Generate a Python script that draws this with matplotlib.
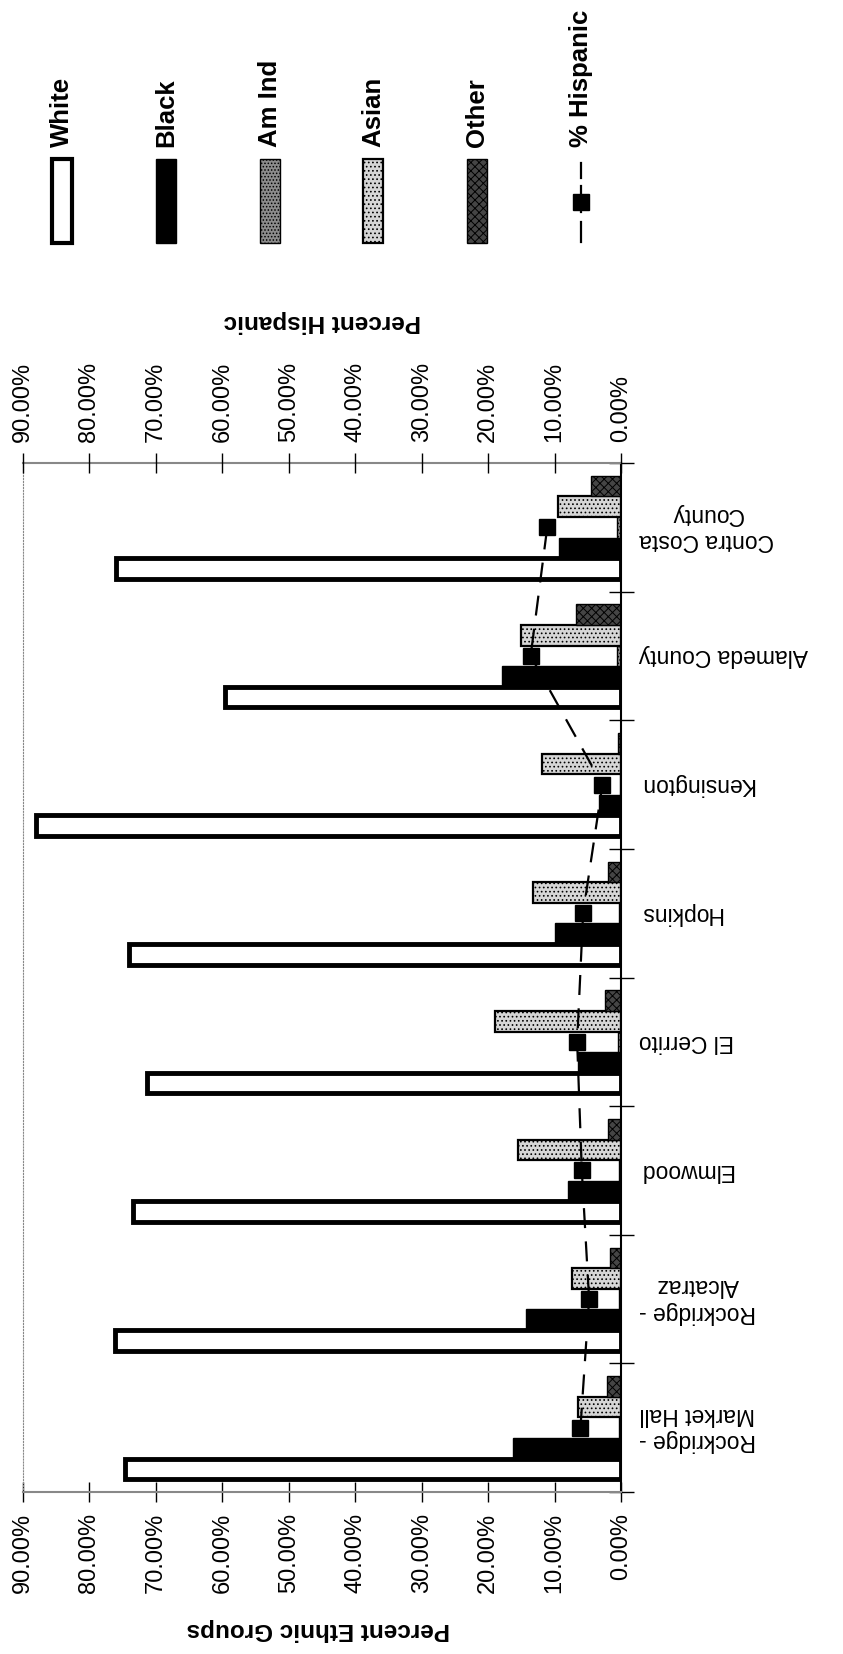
import numpy as np
import matplotlib.pyplot as plt
import matplotlib.ticker as ticker
from matplotlib.patches import Rectangle

plt.rcParams['font.family'] = ['Liberation Sans', 'DejaVu Sans']
plt.rcParams['hatch.linewidth'] = 0.7

# data (percent), bottom to top in the picture
places = ['Rockridge -\nMarket Hall', 'Rockridge -\nAlcatraz', 'Elmwood', 'El Cerrito',
          'Hopkins', 'Kensington', 'Alameda County', 'Contra Costa\nCounty']
white = [74.6, 76.1, 73.4, 71.4, 74.1, 88.1, 59.6, 76.0]
black = [16.2, 14.3, 8.0, 6.5, 10.0, 3.3, 17.9, 9.4]
am_ind = [0.3, 0.3, 0.3, 0.5, 0.3, 0.2, 0.6, 0.6]
asian = [6.4, 7.3, 15.5, 18.9, 13.2, 11.9, 15.0, 9.5]
other = [2.1, 1.7, 1.9, 2.4, 1.9, 0.5, 6.7, 4.5]
hispanic = [6.1, 4.8, 5.9, 6.6, 5.7, 2.8, 13.6, 11.1]

groups = ['White', 'Black', 'Am Ind', 'Asian', 'Other']
series = [white, black, am_ind, asian, other]
# face colour, hatch, edge width
looks = [('white', None, 3.5),
         ('black', None, 1.0),
         ('#8c8c8c', '.....', 1.0),
         ('#d6d6d6', '....', 1.6),
         ('#454545', 'xxxx', 1.0)]

W, H = 843, 1654
fig = plt.figure(figsize=(W / 100, H / 100), dpi=100)

ax = fig.add_axes([23 / W, (H - 1492) / H, 598 / W, 1029 / H])
y = np.arange(len(places))
bh = 0.16
for k, (vals, (fc, hatch, lw)) in enumerate(zip(series, looks)):
    ax.barh(y + (k - 2) * bh, vals, height=bh, color=fc, edgecolor='black',
            linewidth=lw, hatch=hatch, zorder=2)

fmt = ticker.FuncFormatter(lambda v, p: f'{v:.2f}%')
ax.set_xlim(90, 0)
ax.set_ylim(-0.5, len(places) - 0.5)
ax.xaxis.set_major_locator(ticker.MultipleLocator(10))
ax.xaxis.set_major_formatter(fmt)
ax.tick_params(axis='x', direction='inout', length=14, width=1, pad=8,
               labelsize=17, labelrotation=90)

ax.yaxis.tick_right()
ax.set_yticks(np.arange(-0.5, len(places), 1))
ax.set_yticklabels([])
ax.set_yticks(y, minor=True)
ax.set_yticklabels(places, minor=True, rotation=180, va='center',
                   multialignment='center')
ax.tick_params(axis='y', which='major', direction='inout', length=18, width=1)
ax.tick_params(axis='y', which='minor', length=0, pad=13, labelsize=16.5)

ax.spines['left'].set_color('#888888')
ax.spines['left'].set_linestyle(':')
ax.spines['top'].set_color('#888888')
ax.spines['top'].set_linewidth(1.5)
ax.spines['bottom'].set_color('#888888')
ax.spines['bottom'].set_linewidth(1.5)
ax.spines['right'].set_linewidth(1.5)

ax2 = ax.twiny()
ax2.plot(hispanic, y, color='black', linestyle=(0, (9, 6)), linewidth=1.6,
         marker='s', markersize=11, markerfacecolor='black')
ax2.set_xlim(90, 0)
ax2.xaxis.set_major_locator(ticker.MultipleLocator(10))
ax2.xaxis.set_major_formatter(fmt)
ax2.tick_params(axis='x', direction='inout', length=14, width=1, pad=8,
                labelsize=17, labelrotation=90)
for s in ax2.spines.values():
    s.set_visible(False)

# overlay in pixel coordinates for titles and legend
lax = fig.add_axes([0, 0, 1, 1])
lax.set_xlim(0, W)
lax.set_ylim(H, 0)
lax.axis('off')
lax.patch.set_alpha(0)

lax.text(318, 1630, 'Percent Ethnic Groups', rotation=180, ha='center', va='center',
         fontsize=17.5, fontweight='bold')
lax.text(322, 322, 'Percent Hispanic', rotation=180, ha='center', va='center',
         fontsize=17.5, fontweight='bold')

for k, (name, (fc, hatch, lw)) in enumerate(zip(groups, looks)):
    cx = 62 + 103.8 * k
    lax.add_patch(Rectangle((cx - 10, 159), 20, 84, facecolor=fc, edgecolor='black',
                            linewidth=min(lw, 3), hatch=hatch))
    lax.text(cx, 147, name, rotation=90, ha='center', va='bottom',
             fontsize=18.5, fontweight='bold')
cx = 62 + 103.8 * 5
lax.plot([cx, cx], [163, 178], color='black', linewidth=1.6)
lax.plot([cx, cx], [186, 212], color='black', linewidth=1.6)
lax.plot([cx, cx], [222, 242], color='black', linewidth=1.6)
lax.plot([cx], [202], color='black', marker='s', markersize=11)
lax.text(cx, 147, '% Hispanic', rotation=90, ha='center', va='bottom',
         fontsize=18.5, fontweight='bold')

fig.savefig('out.png', dpi=100)
